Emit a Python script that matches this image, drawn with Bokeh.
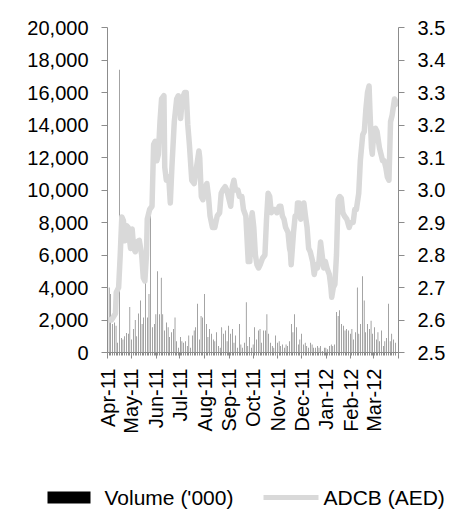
import math
import numpy as np
import pandas as pd
from bokeh.plotting import figure
from bokeh.layouts import column
from bokeh.core.properties import value
from bokeh.models import (Range1d, LinearAxis, FixedTicker, NumeralTickFormatter, ColumnDataSource)
from bokeh.embed import file_html
from bokeh.resources import INLINE

# ---------------- data ----------------
start = pd.Timestamp("2011-04-01")
month_labels = ["Apr-11", "May-11", "Jun-11", "Jul-11", "Aug-11", "Sep-11",
                "Oct-11", "Nov-11", "Dec-11", "Jan-12", "Feb-12", "Mar-12", ""]
series_names = ["Volume ('000)", "ADCB (AED)"]

# ADCB share price (AED), day offset from 1 Apr 2011
price_day = [0, 5, 10, 11, 14, 16, 18, 20, 22, 24, 26, 29, 31, 33, 35, 37, 40, 43, 45, 47,
             49, 50, 53, 56, 58, 60, 62, 64, 66, 68, 71, 72, 74, 77, 79, 81, 84, 87, 89, 91,
             92, 94, 97, 99, 101, 103, 106, 109, 112, 115, 116, 118, 120, 123, 125, 127, 129, 132, 135, 138,
             141, 143, 145, 148, 150, 152, 155, 157, 159, 161, 164, 166, 169, 171, 174, 177, 179, 181, 182, 184,
             186, 188, 190, 192, 195, 198, 200, 202, 204, 206, 208, 211, 213, 216, 218, 220, 222, 224, 227, 229,
             230, 231, 234, 236, 238, 239, 241, 243, 245, 247, 249, 251, 253, 255, 258, 260, 262, 264, 266, 268,
             270, 272, 274, 276, 279, 281, 282, 284, 286, 288, 290, 292, 294, 296, 298, 301, 304, 306, 309, 311,
             313, 316, 318, 321, 323, 325, 327, 329, 330, 332, 333, 335, 337, 339, 342, 344, 346, 348, 350, 352,
             354, 356, 358, 361, 363, 366]
price = [2.60, 2.60, 2.62, 2.685, 2.70, 2.80, 2.917, 2.906, 2.844, 2.89, 2.885, 2.82, 2.88, 2.82, 2.81, 2.84, 2.845, 2.80, 2.73, 2.72,
         2.80, 2.91, 2.94, 2.95, 3.14, 3.15, 3.09, 3.11, 3.21, 3.28, 3.29, 3.07, 3.03, 3.04, 2.96, 3.07, 3.21, 3.28, 3.29, 3.28,
         3.22, 3.28, 3.30, 3.30, 3.20, 3.14, 3.03, 3.02, 3.07, 3.12, 3.10, 2.98, 2.97, 3.01, 3.02, 2.98, 2.92, 2.885, 2.885, 2.92,
         2.93, 2.99, 3.00, 3.01, 3.00, 2.98, 2.95, 3.01, 3.03, 3.00, 3.00, 2.98, 2.98, 2.94, 2.92, 2.78, 2.78, 2.91, 2.93, 2.885,
         2.80, 2.77, 2.76, 2.77, 2.79, 2.80, 2.91, 2.99, 2.98, 2.93, 2.94, 2.94, 2.93, 2.95, 2.95, 2.92, 2.91, 2.885, 2.87, 2.82,
         2.81, 2.77, 2.87, 2.92, 2.92, 2.96, 2.96, 2.91, 2.94, 2.96, 2.92, 2.885, 2.82, 2.81, 2.78, 2.74, 2.77, 2.76, 2.78, 2.84,
         2.80, 2.76, 2.78, 2.76, 2.74, 2.70, 2.67, 2.70, 2.71, 2.80, 2.97, 2.98, 2.975, 2.93, 2.92, 2.91, 2.885, 2.90, 2.90, 2.94,
         2.94, 2.99, 3.09, 3.17, 3.18, 3.25, 3.30, 3.32, 3.25, 3.13, 3.11, 3.18, 3.19, 3.18, 3.13, 3.11, 3.09, 3.09, 3.07, 3.04,
         3.03, 3.21, 3.23, 3.28, 3.27, 3.26]

# Trading volume ('000 shares)
volume = [4000, 3600, 1750, 1850, 1650, 600, 17400, 900, 800, 1000, 1200, 1150, 2800, 800, 1450, 2000, 1000, 2400, 3200, 1750,
          2150, 5200, 2150, 3600, 8400, 1550, 1750, 2350, 5000, 2350, 4600, 2350, 1350, 1850, 1550, 950, 1250, 1450, 2150, 700,
          300, 950, 700, 600, 700, 400, 1050, 300, 1050, 1350, 1550, 3000, 800, 2250, 2150, 3600, 1750, 950, 1450, 1150,
          800, 700, 1250, 400, 300, 1550, 1150, 1350, 700, 1650, 1150, 1450, 600, 1050, 300, 1750, 500, 300, 600, 3100,
          400, 950, 300, 500, 1550, 800, 1350, 1450, 600, 1350, 1350, 2350, 1150, 600, 400, 300, 1050, 600, 700, 400,
          500, 300, 500, 400, 700, 1750, 1250, 2350, 1550, 500, 800, 1150, 500, 600, 400, 300, 600, 500, 300, 300,
          400, 300, 400, 100, 300, 300, 200, 400, 500, 400, 500, 2500, 2250, 2600, 1750, 1650, 1350, 1450, 1350, 1150,
          1450, 800, 1250, 4000, 1150, 1750, 4700, 3200, 1250, 1750, 1450, 1950, 1150, 1550, 800, 1250, 700, 1350, 400, 700,
          900, 3000, 700, 1150, 800, 600]

# ---------------- build ----------------
DAY = 86400000.0
t0 = start.value / 1e6
price_x = [t0 + d * DAY for d in price_day]
vol_days = np.linspace(2, 362, len(volume))
vol_x = [t0 + d * DAY for d in vol_days]
month_ticks = [pd.Timestamp(2011 + (3 + i) // 12, (3 + i) % 12 + 1, 1).value / 1e6 for i in range(13)]

FONT = "Liberation Sans"
AXC = "#8c8c8c"
BAR = "black"
LINE = "#d9d9d9"

p = figure(width=461, height=445, output_backend="svg", toolbar_location=None,
           x_range=Range1d(month_ticks[0], month_ticks[-1]), y_range=Range1d(0, 20000),
           min_border_left=107, min_border_right=63, min_border_top=27, min_border_bottom=93,
           x_axis_type=None, y_axis_type=None)
p.outline_line_color = None
p.grid.visible = False
p.extra_y_ranges = {"price": Range1d(2.5, 3.5)}

vsrc = ColumnDataSource(dict(x=vol_x, top=volume))
p.vbar(x="x", top="top", width=0.45 * DAY, source=vsrc, fill_color=BAR, line_color=None)
psrc = ColumnDataSource(dict(x=price_x, y=price))
p.line(x="x", y="y", source=psrc, line_color=LINE, line_width=5.5, y_range_name="price",
       line_join="round")

def style(ax):
    ax.axis_line_color = AXC
    ax.major_tick_line_color = AXC
    ax.minor_tick_line_color = AXC
    ax.major_tick_out = 6
    ax.major_tick_in = 0
    ax.minor_tick_out = 0
    ax.minor_tick_in = 0
    ax.major_label_text_font = FONT
    ax.major_label_text_font_size = "20px"
    ax.major_label_text_color = "black"

ly = LinearAxis(ticker=FixedTicker(ticks=list(range(0, 20001, 2000))),
                formatter=NumeralTickFormatter(format="0,0"))
style(ly)
ly.major_label_standoff = 13
p.add_layout(ly, "left")

ry = LinearAxis(y_range_name="price",
                ticker=FixedTicker(ticks=[round(2.5 + 0.1 * i, 1) for i in range(11)]),
                formatter=NumeralTickFormatter(format="0.0"))
style(ry)
ry.major_label_standoff = 13
p.add_layout(ry, "right")

bx = LinearAxis(ticker=FixedTicker(ticks=month_ticks, minor_ticks=vol_x))
style(bx)
bx.minor_tick_out = 3
bx.major_label_orientation = math.pi / 2
bx.major_label_standoff = 10
bx.major_label_overrides = {m: lab for m, lab in zip(month_ticks, month_labels)}
p.add_layout(bx, "below")

# legend strip below the chart, drawn in pixel units (y grows downward)
leg = figure(width=461, height=74, output_backend="svg", toolbar_location=None,
             x_range=Range1d(0, 461), y_range=Range1d(74, 0),
             min_border_left=0, min_border_right=0, min_border_top=0, min_border_bottom=0,
             x_axis_type=None, y_axis_type=None)
if hasattr(leg, "frame_align"):
    leg.frame_align = False
    p.frame_align = False
leg.outline_line_color = None
leg.grid.visible = False
KY = 52
leg.quad(left=[47], right=[90], top=[KY - 6], bottom=[KY + 6], fill_color=BAR, line_color=None)
leg.segment(x0=[263], y0=[KY], x1=[318], y1=[KY], line_color=LINE, line_width=5)
leg.text(x=[104, 323], y=[KY, KY], text=series_names, text_font=value(FONT),
         text_font_size="21px", text_color="black", text_baseline="middle", text_align="left")

open("out.html", "w").write(file_html(column(p, leg, spacing=0), INLINE))
